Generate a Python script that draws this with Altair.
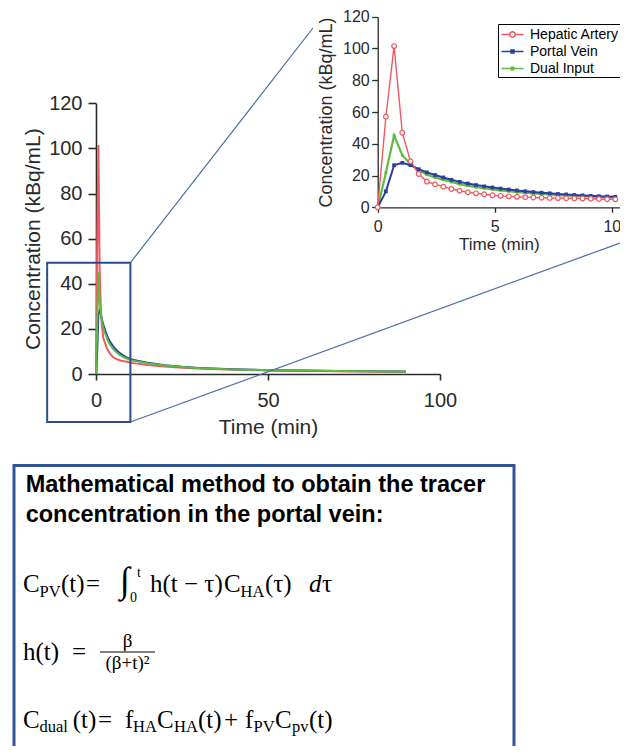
import altair as alt
import pandas as pd

# ---------------- data ----------------
SERIES = ["Hepatic Artery", "Portal Vein", "Dual Input"]
COLORS = ["#ee5a62", "#2b3f9e", "#5dbb3f"]

TIME_EARLY = [0, 0.35, 0.7, 1.05, 1.4, 1.75, 2.1, 2.45, 2.8, 3.15, 3.5, 3.85, 4.2, 4.55,
              4.9, 5.25, 5.6, 5.95, 6.3, 6.65, 7.0, 7.35, 7.7, 8.05, 8.4, 8.75, 9.1, 9.45,
              9.8, 10.15, 10.5]
TIME_TAIL = [12, 15, 20, 25, 30, 40, 50, 60, 70, 80, 90]

HA_EARLY = [0, 57, 101.5, 47, 29, 21, 16.2, 14.5, 13, 11.5, 10.4, 9.5, 8.8, 8.2, 7.6, 7.2,
            6.9, 6.6, 6.4, 6.2, 6.0, 5.9, 5.8, 5.7, 5.6, 5.5, 5.4, 5.2, 5.1, 5.0, 4.9]
HA_TAIL = [4.6, 4.0, 3.3, 2.8, 2.4, 1.9, 1.6, 1.4, 1.2, 1.1, 1.0]

PV_EARLY = [0, 10, 26.5, 28, 26.5, 24, 22, 20.3, 18.8, 17.3, 16, 15, 14, 13.2, 12.5, 11.8,
            11.2, 10.6, 10.1, 9.6, 9.2, 8.8, 8.4, 8.1, 7.8, 7.5, 7.2, 7.0, 6.8, 6.6, 6.4]
PV_TAIL = [5.9, 5.0, 3.9, 3.2, 2.7, 2.1, 1.7, 1.5, 1.3, 1.2, 1.1]

DUAL_EARLY = [0, 21.8, 45.3, 32.8, 27.1, 23.3, 20.6, 18.8, 17.4, 15.9, 14.6, 13.6, 12.7, 12.0,
              11.3, 10.7, 10.1, 9.6, 9.2, 8.8, 8.4, 8.1, 7.7, 7.5, 7.2, 7.0, 6.7, 6.5, 6.4,
              6.2, 6.0]
DUAL_TAIL = [5.6, 4.75, 3.75, 3.1, 2.6, 2.05, 1.7, 1.5, 1.3, 1.2, 1.1]

MAIN_X_TICKS = [0, 50, 100]
INSET_X_TICKS = [0, 5, 10]
Y_TICKS = [0, 20, 40, 60, 80, 100, 120]

ZOOM_REGION = {"x1": [-14.2], "x2": [10], "y1": [-21.3], "y2": [49.3]}

TITLE_LINES = ["Mathematical method to obtain the tracer",
               "concentration in the portal vein:"]

rows = []
for name, early, tail in [(SERIES[0], HA_EARLY, HA_TAIL),
                          (SERIES[1], PV_EARLY, PV_TAIL),
                          (SERIES[2], DUAL_EARLY, DUAL_TAIL)]:
    for t, v in zip(TIME_EARLY + TIME_TAIL, early + tail):
        rows.append({"series": name, "t": t, "v": v})
df = pd.DataFrame(rows)

# ---------------- layout ----------------
W, H = 612, 738
FONT = "Liberation Sans"
SERIF = "Liberation Serif"
AX = "#2a2a2a"

MX = alt.Scale(domain=[0, 100], range=[88, 432], nice=False, zero=False)
MY = alt.Scale(domain=[0, 120], range=[366, 95.3], nice=False, zero=False)
IX = alt.Scale(domain=[0, 10.35], range=[369.7, 612], nice=False, zero=False)
IY = alt.Scale(domain=[0, 120], range=[199.3, 8.7], nice=False, zero=False)

common_axis = dict(grid=False, labelFont=FONT, titleFont=FONT, labelColor=AX, titleColor=AX,
                   domainColor=AX, tickColor=AX, titleFontWeight="normal", labelFlush=False,
                   labelOverlap=False)

main_x_axis = alt.Axis(values=MAIN_X_TICKS, orient="bottom", offset=366 - H, title="Time (min)",
                       labelFontSize=20, titleFontSize=21, tickSize=6, labelPadding=10,
                       titlePadding=6, domainWidth=1.6, tickWidth=1.6, **common_axis)
main_y_axis = alt.Axis(values=Y_TICKS, orient="left", offset=-88, title="Concentration (kBq/mL)",
                       labelFontSize=20, titleFontSize=21, tickSize=8, labelPadding=6,
                       titlePadding=5, domainWidth=1.6, tickWidth=1.6, **common_axis)
inset_x_axis = alt.Axis(values=INSET_X_TICKS, orient="bottom", offset=199.3 - H, title="Time (min)",
                        labelFontSize=16, titleFontSize=17, tickSize=5, labelPadding=6,
                        titlePadding=2, domainWidth=1.3, tickWidth=1.3, **common_axis)
inset_y_axis = alt.Axis(values=Y_TICKS, orient="left", offset=-369.7, title="Concentration (kBq/mL)",
                        labelFontSize=16, titleFontSize=18, tickSize=6, labelPadding=2.5,
                        titlePadding=7, domainWidth=1.3, tickWidth=1.3, **common_axis)

one = pd.DataFrame({"a": [0]})


def series_base(name, tmax=None):
    c = alt.Chart(df).transform_filter(alt.datum.series == name)
    if tmax is not None:
        c = c.transform_filter(alt.datum.t <= tmax)
    return c


layers = []

# formula box background (drawn first)
layers.append(alt.Chart(one).mark_rect(fill="white", stroke="#2f5597", strokeWidth=3).encode(
    x=alt.value(6), x2=alt.value(506), y=alt.value(457.5), y2=alt.value(780)))

# main chart lines
for i, (name, col) in enumerate(zip(SERIES, COLORS)):
    layers.append(series_base(name).mark_line(color=col, strokeWidth=2).encode(
        x=alt.X("t:Q", scale=MX, axis=main_x_axis if i == 0 else None),
        y=alt.Y("v:Q", scale=MY, axis=main_y_axis if i == 0 else None)))

# zoom rectangle on main chart
layers.append(alt.Chart(pd.DataFrame(ZOOM_REGION)).mark_rect(
    fillOpacity=0, stroke="#2c4d8a", strokeWidth=2).encode(
    x=alt.X("x1:Q", scale=MX, axis=None), x2="x2:Q",
    y=alt.Y("y1:Q", scale=MY, axis=None), y2="y2:Q"))

# connector lines
layers.append(alt.Chart(one).mark_rule(color="#4a6ea8", strokeWidth=1.2).encode(
    x=alt.value(122.4), y=alt.value(254.7), x2=alt.value(305), y2=alt.value(20)))
layers.append(alt.Chart(one).mark_rule(color="#4a6ea8", strokeWidth=1.2).encode(
    x=alt.value(122.4), y=alt.value(414), x2=alt.value(612), y2=alt.value(235)))

# inset lines (draw dual, portal, hepatic)
TMAX = 10.35
widths = {SERIES[0]: 1.4, SERIES[1]: 2.0, SERIES[2]: 2.2}
order = [2, 1, 0]
first = True
for i in order:
    name, col = SERIES[i], COLORS[i]
    layers.append(series_base(name, TMAX).mark_line(color=col, strokeWidth=widths[name]).encode(
        x=alt.X("t:Q", scale=IX, axis=inset_x_axis if first else None),
        y=alt.Y("v:Q", scale=IY, axis=inset_y_axis if first else None)))
    first = False

# inset markers
layers.append(series_base(SERIES[2], TMAX).mark_square(size=8, color=COLORS[2], opacity=1).encode(
    x=alt.X("t:Q", scale=IX, axis=None), y=alt.Y("v:Q", scale=IY, axis=None)))
layers.append(series_base(SERIES[1], TMAX).mark_square(size=14, color=COLORS[1], opacity=1).encode(
    x=alt.X("t:Q", scale=IX, axis=None), y=alt.Y("v:Q", scale=IY, axis=None)))
layers.append(series_base(SERIES[0], TMAX).mark_point(
    shape="circle", size=22, filled=False, fill="white", stroke=COLORS[0], strokeWidth=1.2,
    opacity=1).encode(
    x=alt.X("t:Q", scale=IX, axis=None), y=alt.Y("v:Q", scale=IY, axis=None)))

# legend (line + marker symbols)
PATHS = [
    "M-1.3,0L-0.32,0M0.32,0L1.3,0M0.32,0A0.32,0.32,0,1,1,-0.32,0A0.32,0.32,0,1,1,0.32,0",
    "M-1.3,0L1.3,0M-0.18,-0.18L0.18,-0.18L0.18,0.18L-0.18,0.18Z",
    "M-1.3,0L1.3,0M-0.14,-0.14L0.14,-0.14L0.14,0.14L-0.14,0.14Z",
]
leg = alt.Legend(title=None, orient="none", legendX=490, legendY=16, strokeColor="black",
                 fillColor="white", padding=1, symbolSize=289, symbolStrokeWidth=1.5,
                 symbolOpacity=1, symbolOffset=4, labelFont=FONT, labelFontSize=14,
                 labelColor="black", labelOffset=8, rowPadding=0)
layers.append(alt.Chart(pd.DataFrame({"series": SERIES})).mark_point(
    filled=False, opacity=0).encode(
    color=alt.Color("series:N", scale=alt.Scale(domain=SERIES, range=COLORS), legend=leg),
    shape=alt.Shape("series:N", scale=alt.Scale(domain=SERIES, range=PATHS), legend=leg)))

# formula box title
title_df = pd.DataFrame({"s": TITLE_LINES, "x": [17.7, 17.7], "y": [483.7, 513.7]})
layers.append(alt.Chart(title_df).mark_text(
    font=FONT, fontWeight="bold", fontSize=23.5, align="left", baseline="alphabetic",
    color="black").encode(
    x=alt.X("x:Q", scale=None, axis=None), y=alt.Y("y:Q", scale=None, axis=None), text="s:N"))

# formula pieces (text, x, baseline, size) in page pixels
PIECES = [
    ("C", 23, 592, 25), ("PV", 39.5, 597, 16.5), ("(t)", 61, 592, 25), ("=", 86, 592, 25),
    ("∫", 120, 592, 36), ("t", 137, 577, 14), ("0", 130, 602, 14),
    ("h(t − τ)", 150, 592, 25), ("C", 224, 592, 25), ("HA", 240.5, 597, 16.5),
    ("(τ)", 265, 592, 25), ("τ", 322, 592, 25),
    ("h(t)", 23, 660, 25), ("=", 72, 660, 25),
    ("C", 23, 728, 25), ("dual", 39.5, 732, 16.5), ("(t)", 72.7, 728, 25), ("=", 98, 728, 25),
    ("f", 125, 728, 25), ("HA", 133, 732, 16.5), ("C", 157, 728, 25), ("HA", 174, 732, 16.5),
    ("(t)", 198, 728, 25), ("+", 224, 728, 25), ("f", 245, 728, 25), ("PV", 253.5, 732, 16.5),
    ("C", 275, 728, 25), ("pv", 292, 732, 16.5), ("(t)", 309, 728, 25),
]
pieces_df = pd.DataFrame([{"s": s, "x": x - 8, "y": y - 8, "fs": fs} for s, x, y, fs in PIECES])
layers.append(alt.Chart(pieces_df).mark_text(
    font=SERIF, align="left", baseline="alphabetic", color="black").encode(
    x=alt.X("x:Q", scale=None, axis=None), y=alt.Y("y:Q", scale=None, axis=None),
    text="s:N", size=alt.Size("fs:Q", scale=None)))

ITALIC = pd.DataFrame({"s": ["d"], "x": [309 - 8], "y": [592 - 8]})
layers.append(alt.Chart(ITALIC).mark_text(
    font=SERIF, fontStyle="italic", fontSize=25, align="left", baseline="alphabetic",
    color="black").encode(
    x=alt.X("x:Q", scale=None, axis=None), y=alt.Y("y:Q", scale=None, axis=None), text="s:N"))

FRACTION = pd.DataFrame({"s": ["β", "(β+t)²"], "x": [127.5 - 8, 127.5 - 8], "y": [647 - 8, 669 - 8]})
layers.append(alt.Chart(FRACTION).mark_text(
    font=SERIF, fontSize=19, align="center", baseline="alphabetic", color="black").encode(
    x=alt.X("x:Q", scale=None, axis=None), y=alt.Y("y:Q", scale=None, axis=None), text="s:N"))
layers.append(alt.Chart(one).mark_rule(color="black", strokeWidth=1.2).encode(
    x=alt.value(92), x2=alt.value(147), y=alt.value(644)))

chart = alt.layer(*layers).resolve_scale(
    x="independent", y="independent"
).properties(
    width=W, height=H, padding=0, autosize=alt.AutoSizeParams(type="none"),
    background="white"
).configure_view(stroke=None)

chart.save("out.html", embed_options={"renderer": "svg", "actions": False})
